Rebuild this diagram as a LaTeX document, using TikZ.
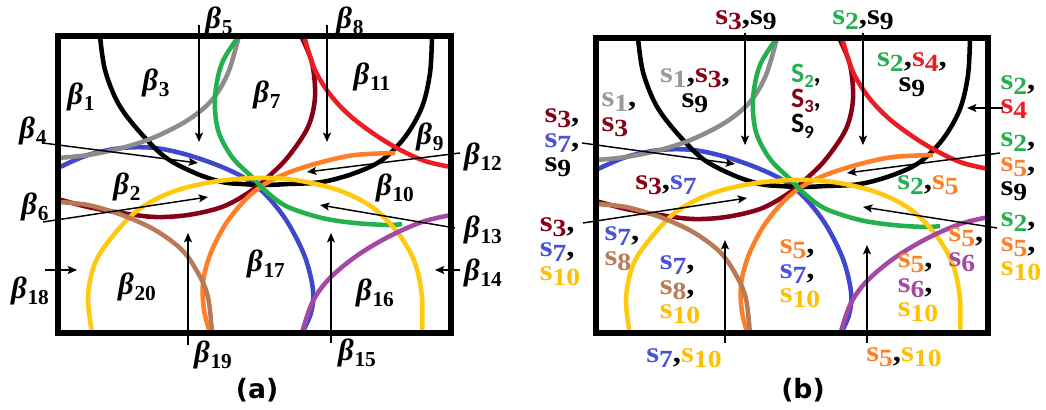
\documentclass[tikz,border=0pt]{standalone}
\usepackage{fontspec}
\usetikzlibrary{arrows.meta}
\newfontfamily\lserif{Liberation Serif}[FakeStretch=1.12]
\newfontfamily\lbeta{Liberation Serif}
\newfontfamily\lcarl{Carlito}
\newfontfamily\ldeja{DejaVu Sans}
\definecolor{cS1}{HTML}{8C8C8C}
\definecolor{cS2}{HTML}{22B14C}
\definecolor{cS3}{HTML}{880015}
\definecolor{cS4}{HTML}{ED1C24}
\definecolor{cS5}{HTML}{FF7F27}
\definecolor{cS6}{HTML}{A349A4}
\definecolor{cS7}{HTML}{3F48CC}
\definecolor{cS8}{HTML}{B97A57}
\definecolor{cS9}{HTML}{000000}
\definecolor{cS10}{HTML}{FFC90E}
\definecolor{tS10}{HTML}{FFC000}
\definecolor{tS7}{HTML}{4A52D8}
\definecolor{tS1}{HTML}{999999}
\newcommand\sv[2]{\textcolor{#1}{s\raisebox{-0.17em}{\fontsize{18.5}{18}\selectfont #2}}}
\newcommand\Sv[2]{\textcolor{#1}{S\raisebox{-0.2em}{\fontsize{14}{14}\selectfont #2}}}
\newcommand\bet[1]{{\lbeta\bfseries\itshape β}\kern0.5pt\raisebox{-4.5pt}{\lbeta\bfseries\fontsize{16}{16}\selectfont #1}}
\newcommand\sensorarcs{%
  \draw[arc,cS7] plot[smooth,tension=0.55] coordinates {(58,168) (88,155) (122,148) (155,148) (188,155) (222,167) (248,180) (268,197) (288,223) (305,257) (313,290) (311,313) (302,333)};
  \draw[arc,cS9] plot[smooth,tension=0.55] coordinates {(100,36) (105,70) (118,103) (138,130) (165,157) (195,173) (222,182) (242,184) (265,185) (288,184) (322,182) (355,173) (382,160) (405,137) (422,107) (430,73) (432,36)};
  \draw[arc,cS1] plot[smooth,tension=0.55] coordinates {(239,36) (228,73) (212,100) (188,120) (155,137) (122,148) (88,155) (58,158)};
  \draw[arc,cS3] plot[smooth,tension=0.55] coordinates {(301,36) (312,63) (315,97) (308,127) (288,157) (268,177) (248,193) (222,207) (188,215) (155,217) (122,213) (88,207) (58,199)};
  \draw[arc,cS4] plot[smooth,tension=0.55] coordinates {(304,36) (315,70) (332,97) (355,120) (388,143) (422,160) (451,167)};
  \draw[arc,cS5] plot[smooth,tension=0.55] coordinates {(395,153) (355,155) (322,162) (290,172) (265,184) (245,200) (225,225) (210,255) (203,283) (204,310) (210,333)};
  \draw[arc,cS2] plot[smooth,tension=0.55] coordinates {(239,36) (222,63) (215,97) (218,130) (232,157) (252,177) (268,193) (288,207) (322,218) (355,223) (388,225) (402,224)};
  \draw[arc,cS10] plot[smooth,tension=0.55] coordinates {(92,333) (88,297) (95,263) (112,237) (138,210) (172,192) (212,182) (255,178) (295,180) (338,190) (372,207) (398,233) (415,263) (422,297) (422,333)};
  \draw[arc,cS8] plot[smooth,tension=0.55] coordinates {(58,202) (88,205) (122,215) (155,230) (182,250) (198,273) (208,297) (212,333)};
  \draw[arc,cS6] plot[smooth,tension=0.55] coordinates {(302,333) (312,303) (328,280) (355,257) (388,237) (422,222) (451,215)};
}
\begin{document}
\begin{tikzpicture}[x=0.75pt,y=-0.75pt,
  arc/.style={line width=3.4pt},
  frame/.style={line width=3.8pt,black},
  ptr/.style={line width=1.1pt,-{Stealth[length=7pt,width=6pt,inset=1.5pt]}},
  blab/.style={inner sep=0pt,font=\fontsize{23}{24}\selectfont},
  slab/.style={inner sep=0pt,font=\lserif\bfseries\fontsize{22}{18.5}\selectfont},
  captxt/.style={inner sep=0pt,font=\ldeja\bfseries\fontsize{20}{22}\selectfont}]
\useasboundingbox (0,0) rectangle (1046,410);
\fill[white] (0,0) rectangle (1046,410);
% ---------- panel (a)
\sensorarcs
\draw[frame] (58,36) rectangle (451,333);
\coordinate (a5s) at (199,25);  \coordinate (a5e) at (199,142);
\coordinate (a8s) at (327,25);  \coordinate (a8e) at (327,142);
\coordinate (a4s) at (43,143);  \coordinate (a4e) at (198,163);
\coordinate (a6s) at (43,222);  \coordinate (a6e) at (208,197);
\coordinate (a12s) at (460,153); \coordinate (a12e) at (307,172);
\coordinate (a13s) at (455,228); \coordinate (a13e) at (320,205);
\coordinate (a18s) at (45,270);  \coordinate (a18e) at (77,270);
\coordinate (a14s) at (460,270); \coordinate (a14e) at (435,270);
\coordinate (a19s) at (188,345); \coordinate (a19e) at (188,233);
\coordinate (a15s) at (331,343); \coordinate (a15e) at (331,233);
\foreach \n in {5,8,4,6,12,13,18,14,19,15} \draw[ptr] (a\n s) -- (a\n e);
\node[blab] (b1) at (81,97) {\bet{1}};
\node[blab] (b2) at (127,187) {\bet{2}};
\node[blab] (b3) at (156,83) {\bet{3}};
\node[blab] (b4) at (33,131) {\bet{4}};
\node[blab] (b5) at (219,21) {\bet{5}};
\node[blab] (b6) at (35,207) {\bet{6}};
\node[blab] (b7) at (267,95) {\bet{7}};
\node[blab] (b8) at (350,21) {\bet{8}};
\node[blab] (b9) at (430,137) {\bet{9}};
\node[blab] (b10) at (395,188) {\bet{10}};
\node[blab] (b11) at (372,77) {\bet{11}};
\node[blab] (b12) at (483,157) {\bet{12}};
\node[blab] (b13) at (483,230) {\bet{13}};
\node[blab] (b14) at (483,273) {\bet{14}};
\node[blab] (b15) at (357,353) {\bet{15}};
\node[blab] (b16) at (375,293) {\bet{16}};
\node[blab] (b17) at (266,264) {\bet{17}};
\node[blab] (b18) at (30,291) {\bet{18}};
\node[blab] (b19) at (213,355) {\bet{19}};
\node[blab] (b20) at (137,287) {\bet{20}};
\node[captxt] (capa) at (257,390) {(a)};
% ---------- panel (b)
\begin{scope}[shift={(538,2)}]
\sensorarcs
\draw[frame] (58,36) rectangle (450,331);
\end{scope}
\coordinate (c1s) at (745,33);   \coordinate (c1e) at (745,145);
\coordinate (c2s) at (863,33);   \coordinate (c2e) at (863,145);
\coordinate (c3s) at (582,143);  \coordinate (c3e) at (735,164);
\coordinate (c4s) at (583,223);  \coordinate (c4e) at (747,198);
\coordinate (c5s) at (1003,108); \coordinate (c5e) at (967,108);
\coordinate (c6s) at (1000,153); \coordinate (c6e) at (847,173);
\coordinate (c7s) at (997,228);  \coordinate (c7e) at (863,207);
\coordinate (c8s) at (725,343);  \coordinate (c8e) at (725,240);
\coordinate (c9s) at (867,343);  \coordinate (c9e) at (867,245);
\foreach \n in {1,...,9} \draw[ptr] (c\n s) -- (c\n e);
\node[slab] (L1) at (746,20) {\sv{cS3}{3},\sv{black}{9}};
\node[slab] (L2) at (863,20) {\sv{cS2}{2},\sv{black}{9}};
\node[slab,align=center] (L3) at (695,91) {\sv{tS1}{1},\sv{cS3}{3},\\\sv{black}{9}};
\node[slab,align=left] (L4) at (619,115) {\sv{tS1}{1},\\\sv{cS3}{3}};
\node[slab,align=left] (L5) at (562,143) {\sv{cS3}{3},\\\sv{tS7}{7},\\\sv{black}{9}};
\node[slab] (L6) at (666,185) {\sv{cS3}{3},\sv{tS7}{7}};
\node[inner sep=0pt,align=left,font=\lcarl\bfseries\fontsize{21}{19}\selectfont] (L7) at (806,101) {\Sv{cS2}{2},\\\Sv{cS3}{3},\\\Sv{black}{9}};
\node[slab,align=center] (L8) at (912,75) {\sv{cS2}{2},\sv{cS4}{4},\\\sv{black}{9}};
\node[slab,align=left] (L9) at (1018,97) {\sv{cS2}{2},\\\sv{cS4}{4}};
\node[slab,align=left] (L10) at (1018,167) {\sv{cS2}{2},\\\sv{cS5}{5},\\\sv{black}{9}};
\node[slab] (L11) at (928,185) {\sv{cS2}{2},\sv{cS5}{5}};
\node[slab,align=left] (L12) at (1021,247) {\sv{cS2}{2},\\\sv{cS5}{5},\\\sv{tS10}{10}};
\node[slab,align=left] (L13) at (966,250) {\sv{cS5}{5},\\\sv{cS6}{6}};
\node[slab,align=left] (L14) at (918,288) {\sv{cS5}{5},\\\sv{cS6}{6},\\\sv{tS10}{10}};
\node[slab,align=left] (L15) at (800,274) {\sv{cS5}{5},\\\sv{tS7}{7},\\\sv{tS10}{10}};
\node[slab] (L16) at (904,357) {\sv{cS5}{5},\sv{tS10}{10}};
\node[slab] (L17) at (684,358) {\sv{tS7}{7},\sv{tS10}{10}};
\node[slab,align=left] (L18) at (680,290) {\sv{tS7}{7},\\\sv{cS8}{8},\\\sv{tS10}{10}};
\node[slab,align=left] (L19) at (622,249) {\sv{tS7}{7},\\\sv{cS8}{8}};
\node[slab,align=left] (L20) at (560,252) {\sv{cS3}{3},\\\sv{tS7}{7},\\\sv{tS10}{10}};
\node[captxt] (capb) at (803,390) {(b)};
\end{tikzpicture}
\end{document}
